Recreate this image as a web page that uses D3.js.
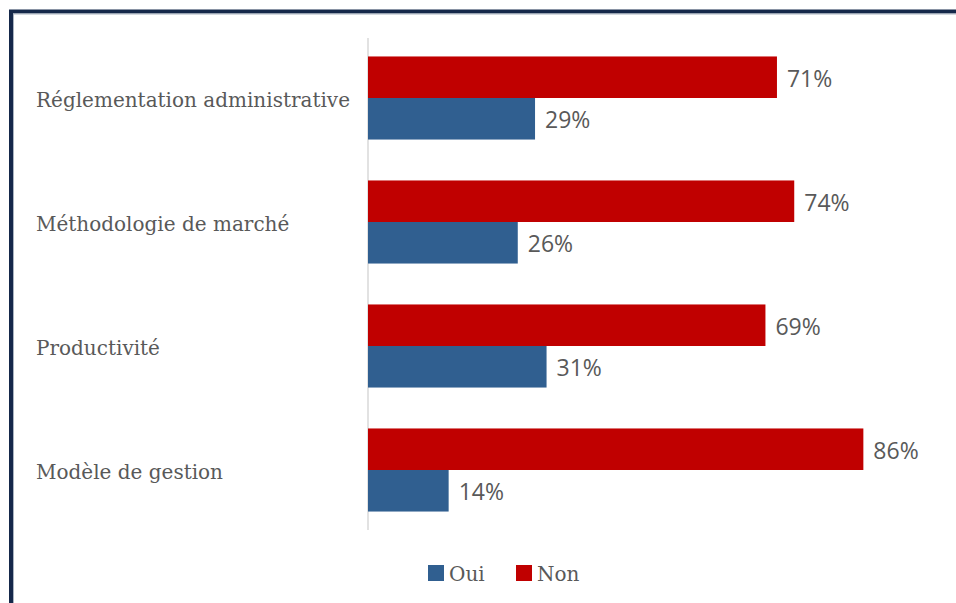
<!DOCTYPE html>
<html>
<head>
<meta charset="utf-8">
<script src="https://cdn.jsdelivr.net/npm/d3@7"></script>
<style>
  html, body { margin: 0; padding: 0; background: #ffffff; }
  svg { display: block; }
</style>
</head>
<body>
<svg id="chart" width="956" height="603"></svg>
<script>
// Survey answers per theme (percent)
const categories = ["Réglementation administrative", "Méthodologie de marché", "Productivité", "Modèle de gestion"];
const seriesNames = ["Non", "Oui"];
const nonValues = [71, 74, 69, 86];
const ouiValues = [29, 26, 31, 14];
const seriesColors = { "Oui": "#305f90", "Non": "#c00000" };
const legendOrder = ["Oui", "Non"];

const svg = d3.select("#chart");
const W = 956, H = 603;

// Frame (dark outer rule with a thin lighter inner rule)
svg.append("rect")
  .attr("x", 11).attr("y", 11.5)
  .attr("width", W + 20).attr("height", H + 20)
  .attr("fill", "none").attr("stroke", "#15284a").attr("stroke-width", 4);
svg.append("rect")
  .attr("x", 13.5).attr("y", 14)
  .attr("width", W + 20).attr("height", H + 20)
  .attr("fill", "none").attr("stroke", "#aab4c0").attr("stroke-width", 1);

const plot = { left: 368, right: 944, top: 36, bottom: 532 };

const x = d3.scaleLinear().domain([0, 100]).range([plot.left, plot.right]);
const y = d3.scaleBand().domain(categories).range([plot.top, plot.bottom]).paddingInner(0.33).paddingOuter(0.165);
const ySub = d3.scaleBand().domain(seriesNames).range([0, y.bandwidth()]);

const rows = categories.map((c, i) => ({ cat: c, Non: nonValues[i], Oui: ouiValues[i] }));

// Vertical category axis line
const yAxis = d3.axisLeft(y).tickSize(0).tickFormat("");
const axisG = svg.append("g").attr("transform", `translate(${plot.left},0)`).call(yAxis);
axisG.select(".domain").attr("stroke", "#d9d9d9").attr("stroke-width", 1.5)
  .attr("d", `M0,${plot.top + 2}V${plot.bottom - 2}`);

// Category labels
svg.append("g").selectAll("text")
  .data(categories).join("text")
  .attr("x", 36)
  .attr("y", d => y(d) + y.bandwidth() / 2 + 2)
  .attr("dy", "0.35em")
  .attr("fill", "#595959")
  .style("font-family", "'DejaVu Serif', serif")
  .style("font-size", "20px")
  .text(d => d);

// Bars
const groups = svg.append("g").selectAll("g")
  .data(rows).join("g")
  .attr("transform", d => `translate(0,${y(d.cat)})`);

groups.selectAll("rect")
  .data(d => seriesNames.map(s => ({ s, v: d[s] })))
  .join("rect")
  .attr("x", x(0))
  .attr("y", d => ySub(d.s))
  .attr("width", d => x(d.v) - x(0))
  .attr("height", ySub.bandwidth())
  .attr("fill", d => seriesColors[d.s]);

// Value labels
groups.selectAll("text")
  .data(d => seriesNames.map(s => ({ s, v: d[s] })))
  .join("text")
  .attr("x", d => x(d.v) + 10)
  .attr("y", d => ySub(d.s) + ySub.bandwidth() / 2 + 1)
  .attr("dy", "0.36em")
  .attr("fill", "#595959")
  .style("font-family", "'Open Sans', sans-serif")
  .style("font-size", "23px")
  .text(d => d.v + "%");

// Legend
const legend = svg.append("g").attr("transform", "translate(428,573)");
const legendX = { "Oui": 0, "Non": 88 };
legendOrder.forEach(name => {
  const g = legend.append("g").attr("transform", `translate(${legendX[name]},0)`);
  g.append("rect").attr("x", 0).attr("y", -8).attr("width", 16).attr("height", 16)
    .attr("fill", seriesColors[name]);
  g.append("text").attr("x", 21).attr("y", 1).attr("dy", "0.35em")
    .attr("fill", "#595959")
    .style("font-family", "'DejaVu Serif', serif")
    .style("font-size", "20px")
    .text(name);
});
</script>
</body>
</html>
